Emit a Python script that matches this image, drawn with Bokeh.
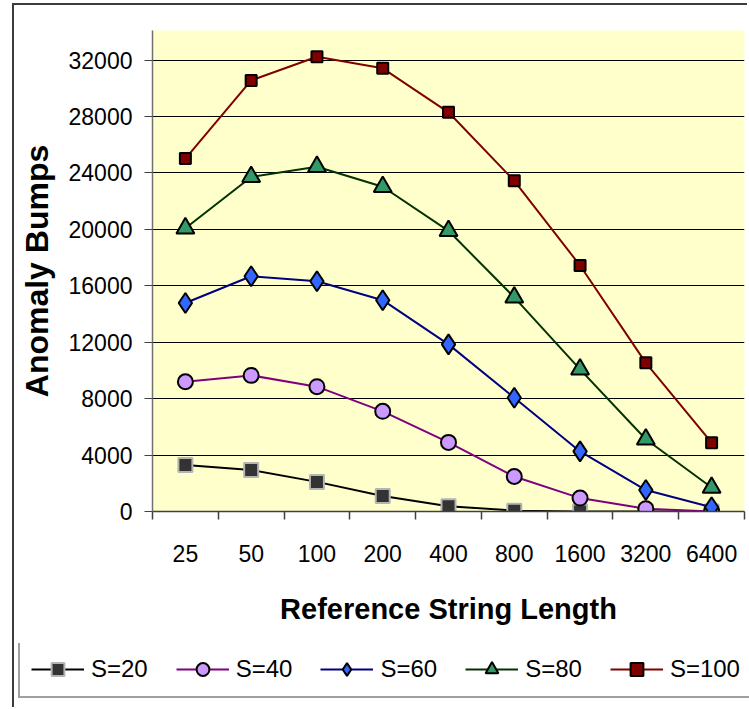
from bokeh.plotting import figure
from bokeh.models import (Range1d, FixedTicker, LinearAxis, Legend, LegendItem, Grid)
from bokeh.embed import file_html
from bokeh.resources import INLINE

# ---- data ----
categories = ["25", "50", "100", "200", "400", "800", "1600", "3200", "6400"]
s20 = [3300, 2950, 2100, 1100, 380, 60, 0, 0, 0]
s40 = [9200, 9650, 8850, 7100, 4900, 2480, 950, 200, 0]
s60 = [14780, 16680, 16320, 14980, 11850, 8060, 4260, 1520, 300]
s80 = [20080, 23720, 24440, 23020, 19900, 15180, 10080, 5120, 1700]
s100 = [25020, 30560, 32240, 31420, 28300, 23440, 17440, 10540, 4880]
series_names = ["S=20", "S=40", "S=60", "S=80", "S=100"]
y_ticks = [0, 4000, 8000, 12000, 16000, 20000, 24000, 28000, 32000]
y_max = 34100

x_title = "Reference String Length"
y_title = "Anomaly Bumps"

# ---- styles ----
styles = [
    dict(line="#000000", marker="square", fill="#333333", outline="#B4B4B4", size=14),
    dict(line="#800080", marker="circle", fill="#CC99FF", outline="#000000", size=15),
    dict(line="#000080", marker="diamond", fill="#3366FF", outline="#000000", size=20),
    dict(line="#003300", marker="triangle", fill="#339966", outline="#000000", size=18),
    dict(line="#800000", marker="square", fill="#800000", outline="#000000", size=11),
]

FONT = "Liberation Sans"
BORDER = "2px solid #3c3c3c"

n = len(categories)
centers = [i + 0.5 for i in range(n)]
bounds = list(range(n + 1))
all_series = [s20, s40, s60, s80, s100]

# main chart (content area starts at x=14, y=5 because of css margin + border)
p = figure(width=735, height=640, output_backend="svg", toolbar_location=None,
           x_range=Range1d(0, n), y_range=Range1d(0, y_max),
           x_axis_type=None, y_axis_type=None,
           min_border_left=138, min_border_right=5,
           min_border_top=25, min_border_bottom=134)
p.margin = (3, 0, 0, 12)
p.styles = {"border-left": BORDER, "border-top": BORDER}
p.background_fill_color = "#FFFFCC"
p.border_fill_color = "white"
p.outline_line_color = None

yaxis = LinearAxis(ticker=FixedTicker(ticks=y_ticks), axis_label=y_title)
yaxis.axis_line_color = "#707070"
yaxis.axis_line_width = 1.5
yaxis.major_tick_out = 8
yaxis.major_tick_in = 0
yaxis.major_tick_line_color = "#404040"
yaxis.minor_tick_line_color = None
yaxis.major_label_standoff = 12
yaxis.major_label_text_font = FONT
yaxis.major_label_text_font_size = "23px"
yaxis.major_label_text_color = "black"
yaxis.axis_label_text_font = FONT
yaxis.axis_label_text_font_style = "bold"
yaxis.axis_label_text_font_size = "32px"
yaxis.axis_label_standoff = 11
yaxis.axis_label_text_color = "black"
p.add_layout(yaxis, "left")

xaxis = LinearAxis(ticker=FixedTicker(ticks=centers, minor_ticks=bounds),
                   major_label_overrides={c: lab for c, lab in zip(centers, categories)},
                   axis_label=x_title)
xaxis.axis_line_color = "#404040"
xaxis.axis_line_width = 1.5
xaxis.major_tick_line_color = None
xaxis.major_tick_out = 8
xaxis.major_tick_in = 0
xaxis.minor_tick_out = 8
xaxis.minor_tick_in = 0
xaxis.minor_tick_line_color = "#404040"
xaxis.minor_tick_line_width = 1.5
xaxis.major_label_standoff = 25
xaxis.major_label_text_font = FONT
xaxis.major_label_text_font_size = "23px"
xaxis.major_label_text_color = "black"
xaxis.axis_label_text_font = FONT
xaxis.axis_label_text_font_style = "bold"
xaxis.axis_label_text_font_size = "29px"
xaxis.axis_label_standoff = 28
xaxis.axis_label_text_color = "black"
p.add_layout(xaxis, "below")

p.add_layout(Grid(dimension=1, ticker=yaxis.ticker, grid_line_color="#000000",
                  grid_line_width=1))

for ys, st in zip(all_series, styles):
    p.line(centers, ys, line_color=st["line"], line_width=2)
    p.scatter(centers, ys, marker=st["marker"], size=st["size"],
              fill_color=st["fill"], line_color=st["outline"], line_width=2)

# legend strip: separate root so its frame is not aligned with the chart's frame;
# the series sit outside its visible range, only the legend shows.
q = figure(width=735, height=64, output_backend="svg", toolbar_location=None,
           x_range=Range1d(0, 1), y_range=Range1d(-3, -2),
           x_axis_type=None, y_axis_type=None,
           min_border=0, min_border_left=0, min_border_right=0,
           min_border_top=0, min_border_bottom=0)
q.margin = (0, 0, 0, 12)
q.styles = {"border-left": BORDER}
q.outline_line_color = None
q.background_fill_color = "white"
q.border_fill_color = "white"

items = []
for name, ys, st in zip(series_names, all_series, styles):
    lr = q.line(centers, ys, line_color=st["line"], line_width=2)
    sr = q.scatter(centers, ys, marker=st["marker"], size=st["size"],
                   fill_color=st["fill"], line_color=st["outline"], line_width=2)
    items.append(LegendItem(label=name, renderers=[lr, sr]))

legend = Legend(items=items, orientation="horizontal", location=(4, 9),
                glyph_width=53, glyph_height=32, label_standoff=7, spacing=28,
                padding=11, margin=0,
                border_line_color="#404040", border_line_width=2,
                background_fill_color="white", background_fill_alpha=1,
                label_text_font=FONT, label_text_font_size="24px",
                label_text_color="black")
q.add_layout(legend, "center")

open("out.html", "w").write(file_html([p, q], INLINE))
